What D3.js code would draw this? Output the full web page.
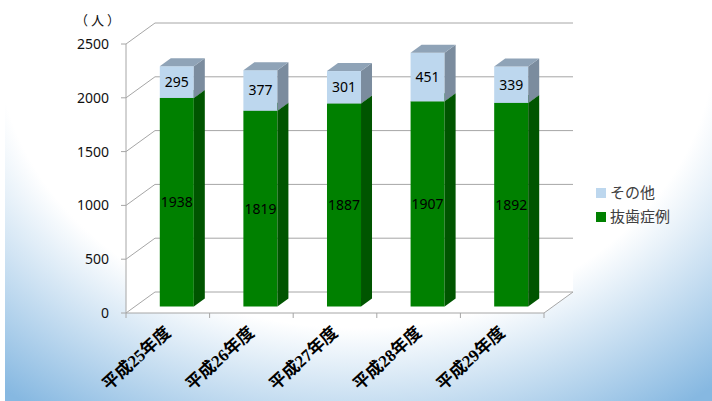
<!DOCTYPE html>
<html>
<head>
<meta charset="utf-8">
<script src="https://cdn.jsdelivr.net/npm/d3@7"></script>
<style>
  body { margin: 0; }
  svg { display: block; }
</style>
</head>
<body>
<svg id="chart" width="712" height="401"></svg>
<script>
// chart data
var categories = ["平成25年度", "平成26年度", "平成27年度", "平成28年度", "平成29年度"];
var extraction = [1938, 1819, 1887, 1907, 1892];   // 抜歯症例
var others = [295, 377, 301, 451, 339];            // その他
var yTicks = [0, 500, 1000, 1500, 2000, 2500];
var seriesNames = ["その他", "抜歯症例"];

var svg = d3.select("#chart");

// background gradient (elliptical, white top centre -> blue corners)
var defs = svg.append("defs");
var grad = defs.append("radialGradient")
    .attr("id", "bg")
    .attr("gradientUnits", "userSpaceOnUse")
    .attr("cx", 0).attr("cy", 0).attr("r", 1)
    .attr("gradientTransform", "translate(356,40) scale(560,450)");
grad.append("stop").attr("offset", 0).attr("stop-color", "#ffffff");
grad.append("stop").attr("offset", 0.64).attr("stop-color", "#ffffff");
grad.append("stop").attr("offset", 1.0).attr("stop-color", "#86b8e1");

svg.append("rect")
    .attr("width", 712).attr("height", 401)
    .attr("fill", "#ffffff");
svg.append("rect")
    .attr("x", 5)
    .attr("width", 707).attr("height", 401)
    .attr("fill", "url(#bg)");

// plot config
var x0 = 126, x1 = 544;      // front floor edge
var depthX = 29, depthY = -21; // wall depth
var barDX = 11, barDY = -8;    // bar depth
var offX = (depthX - barDX) / 2, offY = (depthY - barDY) / 2;
var gridColor = "#a6a6a6";

var x = d3.scaleBand()
    .domain(categories)
    .range([x0, x1])
    .paddingInner(0.593)
    .paddingOuter(0.593 / 2);

var y = d3.scaleLinear()
    .domain([0, 2500])
    .range([313, 44]);

var walls = svg.append("g").attr("id", "walls");

// back wall, side wall, floor (white)
walls.append("path")
    .attr("d", "M" + (x0 + depthX) + "," + (y(2500) + depthY) +
               "L" + (x1 + depthX) + "," + (y(2500) + depthY) +
               "L" + (x1 + depthX) + "," + (y(0) + depthY) +
               "L" + x1 + "," + y(0) +
               "L" + x0 + "," + y(0) +
               "L" + x0 + "," + y(2500) + "Z")
    .attr("fill", "#ffffff");

// gridlines: diagonal on left wall + horizontal on back wall
yTicks.forEach(function(t) {
    var yy = y(t);
    walls.append("polyline")
        .attr("points", x0 + "," + yy + " " + (x0 + depthX) + "," + (yy + depthY) + " " + (x1 + depthX) + "," + (yy + depthY))
        .attr("fill", "none")
        .attr("stroke", gridColor)
        .attr("stroke-width", 1);
});

// floor front edge + right edge
walls.append("polyline")
    .attr("points", x0 + "," + y(0) + " " + x1 + "," + y(0) + " " + (x1 + depthX) + "," + (y(0) + depthY))
    .attr("fill", "none")
    .attr("stroke", gridColor);

// y axis
var yAxis = svg.append("g").attr("id", "y-axis");
yAxis.append("line")
    .attr("x1", x0).attr("x2", x0)
    .attr("y1", y(0)).attr("y2", y(2500))
    .attr("stroke", gridColor);
yAxis.selectAll("line.tick")
    .data(yTicks)
    .enter()
    .append("line")
    .attr("class", "tick")
    .attr("x1", x0 - 5).attr("x2", x0)
    .attr("y1", function(d) { return y(d); })
    .attr("y2", function(d) { return y(d); })
    .attr("stroke", gridColor);
yAxis.selectAll("text")
    .data(yTicks)
    .enter()
    .append("text")
    .attr("x", 109)
    .attr("y", function(d) { return y(d); })
    .attr("dy", "0.35em")
    .attr("text-anchor", "end")
    .attr("font-family", "'Noto Sans', sans-serif")
    .attr("font-size", 14)
    .attr("fill", "#111")
    .text(function(d) { return d; });

// unit label
svg.append("text")
    .attr("x", 75).attr("y", 25)
    .attr("font-family", "'Noto Sans CJK JP', sans-serif")
    .attr("font-size", 13)
    .attr("letter-spacing", 3)
    .attr("fill", "#111")
    .text("（人）");

// x axis ticks at category boundaries
var step = x.step();
var xTickPos = d3.range(categories.length + 1).map(function(i) { return x0 + step * i; });
svg.append("g").attr("id", "x-ticks")
    .selectAll("line")
    .data(xTickPos)
    .enter()
    .append("line")
    .attr("x1", function(d) { return d; })
    .attr("x2", function(d) { return d; })
    .attr("y1", y(0)).attr("y2", y(0) + 5)
    .attr("stroke", gridColor);

// x labels, rotated
svg.append("g").attr("id", "x-labels")
    .selectAll("text")
    .data(categories)
    .enter()
    .append("text")
    .attr("transform", function(d) {
        var cx = x(d) + x.bandwidth() / 2 + 4;
        return "translate(" + cx + "," + 334 + ") rotate(-42)";
    })
    .attr("text-anchor", "end")
    .attr("font-family", "'Liberation Serif', 'Noto Sans CJK JP', serif")
    .attr("font-weight", "bold")
    .attr("font-size", 17)
    .attr("fill", "#000")
    .text(function(d) { return d; });

// stacked 3D bars
var segColors = [
    { front: "#008000", side: "#005500", top: "#006a00" },
    { front: "#bdd7ee", side: "#7b8c9e", top: "#8fa3b7" }
];

var stackData = categories.map(function(c, i) {
    return { cat: c, segs: [
        { v0: 0, v1: extraction[i], val: extraction[i], s: 0 },
        { v0: extraction[i], v1: extraction[i] + others[i], val: others[i], s: 1 }
    ] };
});

var bars = svg.append("g").attr("id", "bars");
var barGroups = bars.selectAll("g.bar")
    .data(stackData)
    .enter()
    .append("g")
    .attr("class", "bar");

barGroups.each(function(d) {
    var g = d3.select(this);
    var bx = x(d.cat) + offX;
    var bw = x.bandwidth();
    d.segs.forEach(function(s) {
        var yt = y(s.v1) + offY;
        var yb = y(s.v0) + offY;
        var col = segColors[s.s];
        // front face
        g.append("rect")
            .attr("x", bx).attr("y", yt)
            .attr("width", bw).attr("height", yb - yt)
            .attr("fill", col.front);
        // right side
        g.append("path")
            .attr("d", "M" + (bx + bw) + "," + yt +
                       "L" + (bx + bw + barDX) + "," + (yt + barDY) +
                       "L" + (bx + bw + barDX) + "," + (yb + barDY) +
                       "L" + (bx + bw) + "," + yb + "Z")
            .attr("fill", col.side);
        // top
        g.append("path")
            .attr("d", "M" + bx + "," + yt +
                       "L" + (bx + barDX) + "," + (yt + barDY) +
                       "L" + (bx + bw + barDX) + "," + (yt + barDY) +
                       "L" + (bx + bw) + "," + yt + "Z")
            .attr("fill", col.top);
        // value label
        g.append("text")
            .attr("x", bx + bw / 2)
            .attr("y", (yt + yb) / 2)
            .attr("dy", "0.35em")
            .attr("text-anchor", "middle")
            .attr("font-family", "'Noto Sans', sans-serif")
            .attr("font-size", 14)
            .attr("fill", "#000")
            .text(s.val);
    });
});

// legend
var legendColors = ["#bdd7ee", "#008000"];
var legend = svg.append("g").attr("id", "legend");
var legendItems = legend.selectAll("g")
    .data(seriesNames)
    .enter()
    .append("g")
    .attr("transform", function(d, i) { return "translate(596," + (193 + i * 24) + ")"; });
legendItems.append("rect")
    .attr("x", 0).attr("y", -5)
    .attr("width", 10).attr("height", 10)
    .attr("fill", function(d, i) { return legendColors[i]; });
legendItems.append("text")
    .attr("x", 14).attr("y", 0)
    .attr("dy", "0.35em")
    .attr("font-family", "'Noto Sans CJK JP', sans-serif")
    .attr("font-size", 15)
    .attr("fill", "#404040")
    .text(function(d) { return d; });
</script>
</body>
</html>
